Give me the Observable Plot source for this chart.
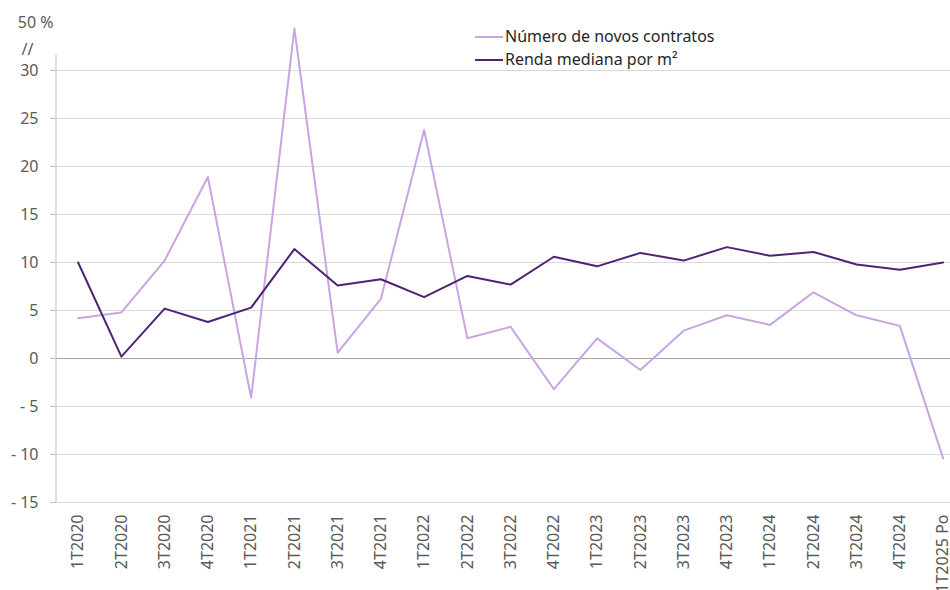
<!DOCTYPE html>
<html>
<head>
<meta charset="utf-8">
<script src="https://cdn.jsdelivr.net/npm/d3@7"></script>
<script src="https://cdn.jsdelivr.net/npm/@observablehq/plot@0.6"></script>
<style>
  body { margin: 0; background: #fff; }
  #wrap { position: relative; width: 950px; height: 590px; overflow: hidden; font-family: "Noto Sans", sans-serif; background: #fff; }
  #wrap svg { position: absolute; left: 0; top: 0; }
  .legend { position: absolute; left: 475px; top: 25px; font-size: 16px; color: #262626; line-height: 23px; }
  .legend .row { display: flex; align-items: center; white-space: nowrap; }
  .legend .sw { display: inline-block; width: 28px; height: 2px; margin-right: 2px; }
</style>
</head>
<body>
<div id="wrap"></div>
<script>
const quarters = ["1T2020","2T2020","3T2020","4T2020","1T2021","2T2021","3T2021","4T2021",
  "1T2022","2T2022","3T2022","4T2022","1T2023","2T2023","3T2023","4T2023",
  "1T2024","2T2024","3T2024","4T2024","1T2025 Po"];
const contratos = [4.2, 4.8, 10.2, 18.9, -4.1, 47.5, 0.6, 6.2, 23.8, 2.1, 3.3, -3.2,
  2.1, -1.2, 2.9, 4.5, 3.5, 6.9, 4.5, 3.4, -10.4];
const renda = [10.0, 0.2, 5.2, 3.8, 5.3, 11.4, 7.6, 8.25, 6.4, 8.6, 7.7, 10.6,
  9.6, 11.0, 10.2, 11.6, 10.7, 11.1, 9.8, 9.25, 10.0];
const seriesNames = ["Número de novos contratos", "Renda mediana por m²"];
const seriesColors = ["#c8a5e2", "#4f2373"];
const yTicks = [-15, -10, -5, 0, 5, 10, 15, 20, 25, 30];
const breakTopLabel = "50 %";
const breakMark = "//";
const breakFrom = 30, breakTop = 50, breakShown = 35, breakMarkAt = 32.2;

// broken axis: values above 30 are compressed so 50 sits at 35
const brk = v => v <= breakFrom ? v : breakFrom + (v - breakFrom) * (breakShown - breakFrom) / (breakTop - breakFrom);

const data = [];
quarters.forEach((q, i) => {
  data.push({q, s: seriesNames[0], v: contratos[i]});
  data.push({q, s: seriesNames[1], v: renda[i]});
});

const fmt = t => t < 0 ? "- " + Math.abs(t) : String(t);

const chart = Plot.plot({
  width: 950,
  height: 590,
  marginTop: 22,
  marginBottom: 88,
  marginLeft: 56,
  marginRight: 0,
  style: {fontFamily: "'Noto Sans', sans-serif", fontSize: "16px", color: "#595959", background: "#fff", overflow: "visible"},
  x: {type: "point", domain: quarters, range: [56, 964.25], padding: 0.5, round: false},
  y: {domain: [-15, 35]},
  color: {domain: seriesNames, range: seriesColors},
  marks: [
    Plot.ruleY(yTicks.filter(t => t !== 0), {stroke: "#d9d9d9", strokeWidth: 1}),
    Plot.ruleY([brk(breakTop)], {x1: quarters[0], x2: quarters[quarters.length - 1], stroke: "#d9d9d9", dx: -7}),
    Plot.ruleY([0], {stroke: "#a6a6a6", strokeWidth: 1}),
    Plot.axisY(yTicks, {tickSize: 6, tickPadding: 12, tickFormat: fmt, stroke: "#bfbfbf", fill: "#595959", label: null}),
    Plot.axisY([brk(breakTop)], {tickSize: 0, tickPadding: 3, tickFormat: () => breakTopLabel, fill: "#595959", label: null}),
    Plot.axisY([breakMarkAt], {tickSize: 0, tickPadding: 23, tickFormat: () => breakMark, fill: "#595959", label: null}),
    Plot.axisX({tickSize: 0, tickPadding: 12, tickRotate: -90, fill: "#595959", label: null}),
    Plot.line(data, {x: "q", y: d => brk(d.v), z: "s", stroke: "s", strokeWidth: 2})
  ]
});

const wrap = document.getElementById("wrap");
wrap.appendChild(chart);

// vertical axis line at the frame's left edge
const xs = chart.scale("x"), ys = chart.scale("y");
d3.select(chart).append("line")
  .attr("x1", xs.range[0]).attr("x2", xs.range[0])
  .attr("y1", ys.apply(31.6)).attr("y2", ys.apply(-15))
  .attr("stroke", "#bfbfbf").attr("stroke-width", 1);

// legend
const legend = document.createElement("div");
legend.className = "legend";
seriesNames.forEach((name, i) => {
  const row = document.createElement("div");
  row.className = "row";
  const sw = document.createElement("span");
  sw.className = "sw";
  sw.style.background = seriesColors[i];
  row.appendChild(sw);
  row.appendChild(document.createTextNode(name));
  legend.appendChild(row);
});
wrap.appendChild(legend);
</script>
</body>
</html>
